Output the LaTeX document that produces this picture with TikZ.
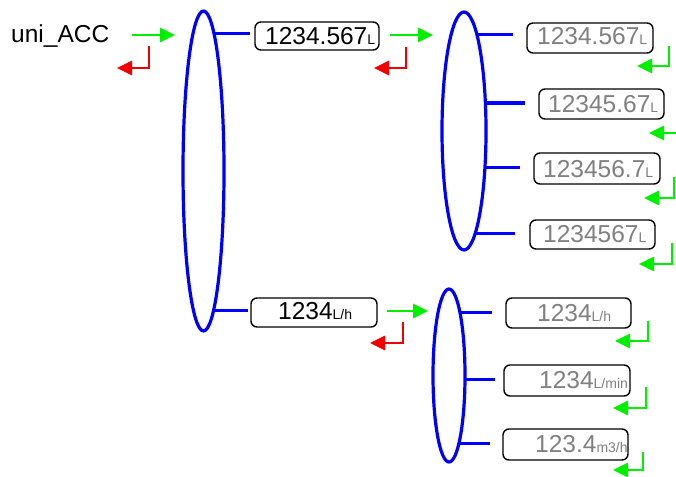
\documentclass[tikz,border=0pt]{standalone}
\usepackage{fontspec}
\setmainfont{Liberation Sans}
\usetikzlibrary{arrows.meta,shapes.geometric}
\definecolor{fwdgreen}{RGB}{0,240,0}
\definecolor{backred}{RGB}{240,0,0}
\definecolor{txtgrey}{RGB}{128,128,128}
\newcommand{\valtxt}[2]{{\fontsize{24.5}{24}\selectfont #1}{\fontsize{14}{14}\selectfont #2}}
\tikzset{
  valbox/.style={draw=black, line width=1.4pt, rounded corners=6pt, fill=white, inner sep=0pt},
  valtext/.style={anchor=base west, inner sep=0pt},
  grouping/.style={draw=blue, line width=3.2pt, ellipse, fill=white, inner sep=0pt},
  conn/.style={draw=blue, line width=3pt},
  fwd/.style={draw=fwdgreen, line width=2.8pt, -{Triangle[length=15pt,width=14pt]}},
  backg/.style={draw=fwdgreen, line width=2.8pt, -{Triangle[length=15pt,width=14pt]}},
  backr/.style={draw=backred, line width=2.8pt, -{Triangle[length=15pt,width=14pt]}},
}
\begin{document}
\begin{tikzpicture}[x=1pt,y=-1pt]
\useasboundingbox (0,0) rectangle (676,476);
\clip (0,0) rectangle (676,476);
% boxes
\node[valbox, minimum width=124pt, minimum height=28pt] (b1) at (317,36) {};
\node[valbox, minimum width=126pt, minimum height=30pt] (ba) at (590,38) {};
\node[valbox, minimum width=125pt, minimum height=30pt] (bb) at (601.5,104) {};
\node[valbox, minimum width=126pt, minimum height=31pt] (bc) at (597,168.5) {};
\node[valbox, minimum width=125pt, minimum height=29pt] (bd) at (592.5,234.5) {};
\node[valbox, minimum width=126pt, minimum height=29pt] (b2) at (314,312.5) {};
\node[valbox, minimum width=125pt, minimum height=30pt] (be) at (568.5,313) {};
\node[valbox, minimum width=126pt, minimum height=31pt] (bf) at (567,380.5) {};
\node[valbox, minimum width=125pt, minimum height=31pt] (bg) at (565.5,444.5) {};
% connectors (drawn behind the white-filled ellipses)
\coordinate (e1c) at (203.5,171);
\coordinate (e2c) at (464,131);
\coordinate (e3c) at (449,375.5);
\draw[conn] (e1c |- 0,34) -- (250,34) coordinate (l1);
\draw[conn] (e1c |- 0,310) -- (248,310) coordinate (l2);
\draw[conn] (e2c |- 0,35) -- (513,35) coordinate (la);
\draw[conn] (e2c |- 0,103) -- (525,103) coordinate (lb);
\draw[conn] (e2c |- 0,167) -- (520,167) coordinate (lc);
\draw[conn] (e2c |- 0,233) -- (515,233) coordinate (ld);
\draw[conn] (e3c |- 0,312) -- (492,312) coordinate (le);
\draw[conn] (e3c |- 0,379) -- (495,379) coordinate (lf);
\draw[conn] (e3c |- 0,443) -- (490,443) coordinate (lg);
% ellipses
\node[grouping, minimum width=41pt, minimum height=320pt] (e1) at (e1c) {};
\node[grouping, minimum width=44pt, minimum height=238pt] (e2) at (e2c) {};
\node[grouping, minimum width=32pt, minimum height=173pt] (e3) at (e3c) {};
% texts
\node[valtext] (root) at (11,43) {\fontsize{24.5}{24}\selectfont uni\_ACC};
\node[valtext, text=black] (t1) at (265,45) {\valtxt{1234.567}{L}};
\node[valtext, text=txtgrey] (ta) at (537,45) {\valtxt{1234.567}{L}};
\node[valtext, text=txtgrey] (tb) at (548,113) {\valtxt{12345.67}{L}};
\node[valtext, text=txtgrey] (tc) at (543,177) {\valtxt{123456.7}{L}};
\node[valtext, text=txtgrey] (td) at (543,242) {\valtxt{1234567}{L}};
\node[valtext, text=black] (t2) at (278,319) {\valtxt{1234}{L/h}};
\node[valtext, text=txtgrey] (te) at (537,321) {\valtxt{1234}{L/h}};
\node[valtext, text=txtgrey] (tf) at (539,388) {\valtxt{1234}{L/min}};
\node[valtext, text=txtgrey] (tg) at (535,452) {\valtxt{123.4}{m3/h}};
% forward (green) arrows
\draw[fwd] (132,35) -- (175,35);
\draw[fwd] (390,35) -- (433,35);
\draw[fwd] (387,311) -- (428,311);
% red return hooks
\draw[backr] (149,46) -- (149,68) -- (117,68);
\draw[backr] (406,47) -- (406,68) -- (374,68);
\draw[backr] (403,322) -- (403,343) -- (370,343);
% green return hooks
\draw[backg] (669,46) -- (669,66) -- (637,66);
\draw[backg] (677,133) -- (649,133);
\draw[backg] (674,177) -- (674,198) -- (644,198);
\draw[backg] (672,243) -- (672,264) -- (639,264);
\draw[backg] (648,321) -- (648,341) -- (615,341);
\draw[backg] (646,387) -- (646,408) -- (613,408);
\draw[backg] (643,452) -- (643,470) -- (613,470);
\end{tikzpicture}
\end{document}
